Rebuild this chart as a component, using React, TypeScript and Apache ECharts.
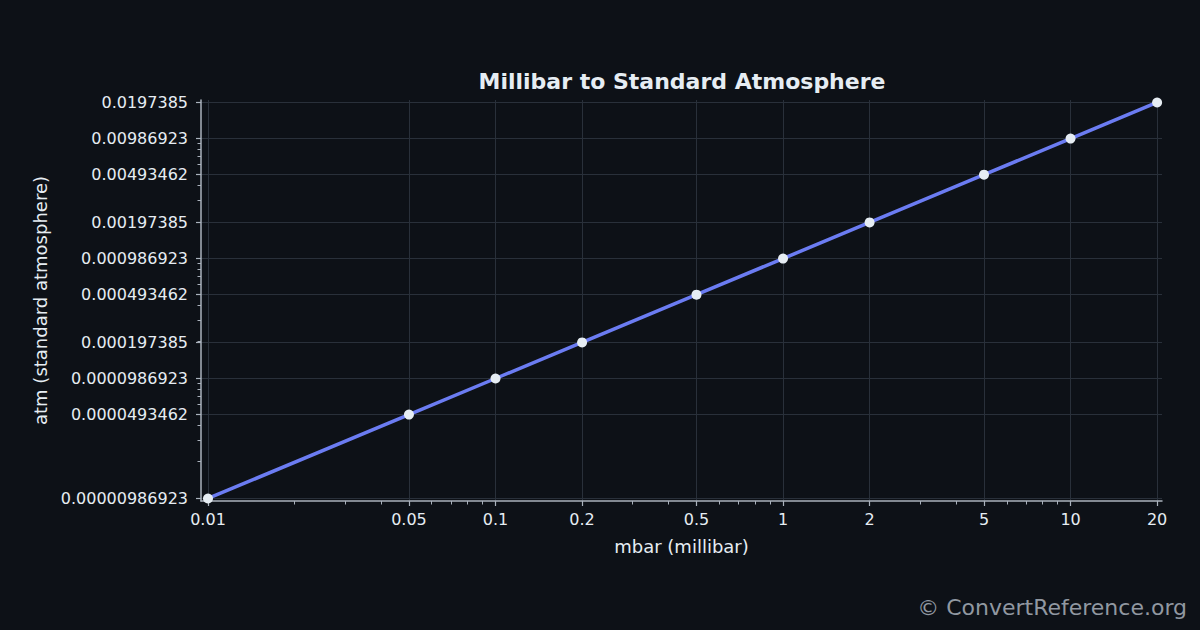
import React, { useEffect, useRef } from 'react';
import * as echarts from 'echarts';

// Converted pairs
const mbarValues = [0.01, 0.05, 0.1, 0.2, 0.5, 1, 2, 5, 10, 20];
const atmValues = [
	0.00000986923, 0.0000493462, 0.0000986923, 0.000197385, 0.000493462, 0.000986923, 0.00197385, 0.00493462, 0.00986923, 0.0197385
];

// Tick labels as printed on the axes
const xTickLabels = ['0.01', '0.05', '0.1', '0.2', '0.5', '1', '2', '5', '10', '20'];
const yTickLabels = [
	'0.00000986923',
	'0.0000493462',
	'0.0000986923',
	'0.000197385',
	'0.000493462',
	'0.000986923',
	'0.00197385',
	'0.00493462',
	'0.00986923',
	'0.0197385'
];

const X_MIN = 0.009455;
const X_MAX = 20.8;
const Y_MIN = 0.0000094;
const Y_MAX = 0.0207;

const BG = '#0d1117';
const TEXT = '#e6edf3';
const AXIS = '#aab2bd';
const GRID = '#29303a';
const LINE = '#6b7cf2';
const FONT = '"DejaVu Sans", sans-serif';

// log minor ticks at k * 10^n (k = 1..9), like a log locator
const minorTicks = (lo: number, hi: number) => {
	const out: number[] = [];
	for (let n = Math.floor(Math.log10(lo)) - 1; n <= Math.ceil(Math.log10(hi)); n++) {
		for (let k = 1; k <= 9; k++) {
			const v = Number((k * Math.pow(10, n)).toPrecision(6));
			if (v >= lo && v <= hi) out.push(v);
		}
	}
	return out;
};

const labelFor = (values: number[], labels: string[]) => (v: number) => {
	const i = values.findIndex(t => Math.abs(t - v) / t < 1e-4);
	return i >= 0 ? labels[i] : '';
};

const App: React.FC = () => {
	const chartRef = useRef<HTMLDivElement>(null);

	useEffect(() => {
		if (!chartRef.current) return;
		const chart = echarts.init(chartRef.current, undefined, { renderer: 'svg' });

		const option: any = {
			animation: false,
			backgroundColor: BG,
			textStyle: { fontFamily: FONT },
			title: {
				text: 'Millibar to Standard Atmosphere',
				left: 682,
				top: 70,
				padding: 0,
				textAlign: 'center',
				textStyle: { color: TEXT, fontSize: 22, fontWeight: 'bold', fontFamily: FONT }
			},
			grid: { left: 201, right: 38, top: 100, bottom: 129, containLabel: false },
			xAxis: [
				{
					type: 'log',
					min: X_MIN,
					max: X_MAX,
					position: 'bottom',
					name: 'mbar (millibar)',
					nameLocation: 'middle',
					nameGap: 36,
					nameTextStyle: { color: TEXT, fontSize: 18, fontFamily: FONT },
					axisLine: { show: true, onZero: false, lineStyle: { color: AXIS, width: 1.5 } },
					axisTick: { show: true, length: 5, customValues: mbarValues, lineStyle: { color: AXIS, width: 1.2 } },
					axisLabel: {
						customValues: mbarValues,
						formatter: labelFor(mbarValues, xTickLabels),
						color: TEXT,
						fontSize: 16,
						margin: 10,
						fontFamily: FONT
					},
					splitLine: { show: true, lineStyle: { color: GRID, width: 1 } },
					minorTick: { show: false },
					minorSplitLine: { show: false }
				},
				{
					type: 'log',
					min: X_MIN,
					max: X_MAX,
					position: 'bottom',
					axisLine: { show: false, onZero: false },
					axisTick: { show: true, length: 3.5, customValues: minorTicks(X_MIN, X_MAX), lineStyle: { color: AXIS, width: 1 } },
					axisLabel: { show: false },
					splitLine: { show: false }
				}
			],
			yAxis: [
				{
					type: 'log',
					min: Y_MIN,
					max: Y_MAX,
					position: 'left',
					name: 'atm (standard atmosphere)',
					nameLocation: 'middle',
					nameGap: 148,
					nameRotate: 90,
					nameTextStyle: { color: TEXT, fontSize: 18, fontFamily: FONT },
					axisLine: { show: true, onZero: false, lineStyle: { color: AXIS, width: 1.5 } },
					axisTick: { show: true, length: 5, customValues: atmValues, lineStyle: { color: AXIS, width: 1.2 } },
					axisLabel: {
						customValues: atmValues,
						formatter: labelFor(atmValues, yTickLabels),
						color: TEXT,
						fontSize: 16,
						margin: 13,
						fontFamily: FONT
					},
					splitLine: { show: true, lineStyle: { color: GRID, width: 1 } }
				},
				{
					type: 'log',
					min: Y_MIN,
					max: Y_MAX,
					position: 'left',
					axisLine: { show: false, onZero: false },
					axisTick: { show: true, length: 3.5, customValues: minorTicks(Y_MIN, Y_MAX), lineStyle: { color: AXIS, width: 1 } },
					axisLabel: { show: false },
					splitLine: { show: false }
				}
			],
			series: [
				{
					type: 'line',
					xAxisIndex: 0,
					yAxisIndex: 0,
					data: mbarValues.map((x, i) => [x, atmValues[i]]),
					symbol: 'circle',
					symbolSize: 10,
					lineStyle: { color: LINE, width: 3.5 },
					itemStyle: { color: TEXT, borderColor: TEXT, borderWidth: 0 },
					z: 3
				}
			],
			graphic: [
				{
					type: 'text',
					right: 13,
					top: 596,
					style: {
						text: '© ConvertReference.org',
						fill: '#9198a1',
						fontSize: 22,
						fontFamily: FONT
					}
				}
			]
		};

		chart.setOption(option);

		return () => {
			chart.dispose();
		};
	}, []);

	return <div ref={chartRef} style={{ position: 'absolute', left: 0, top: 0, width: '1200px', height: '630px' }} />;
};

export default App;
